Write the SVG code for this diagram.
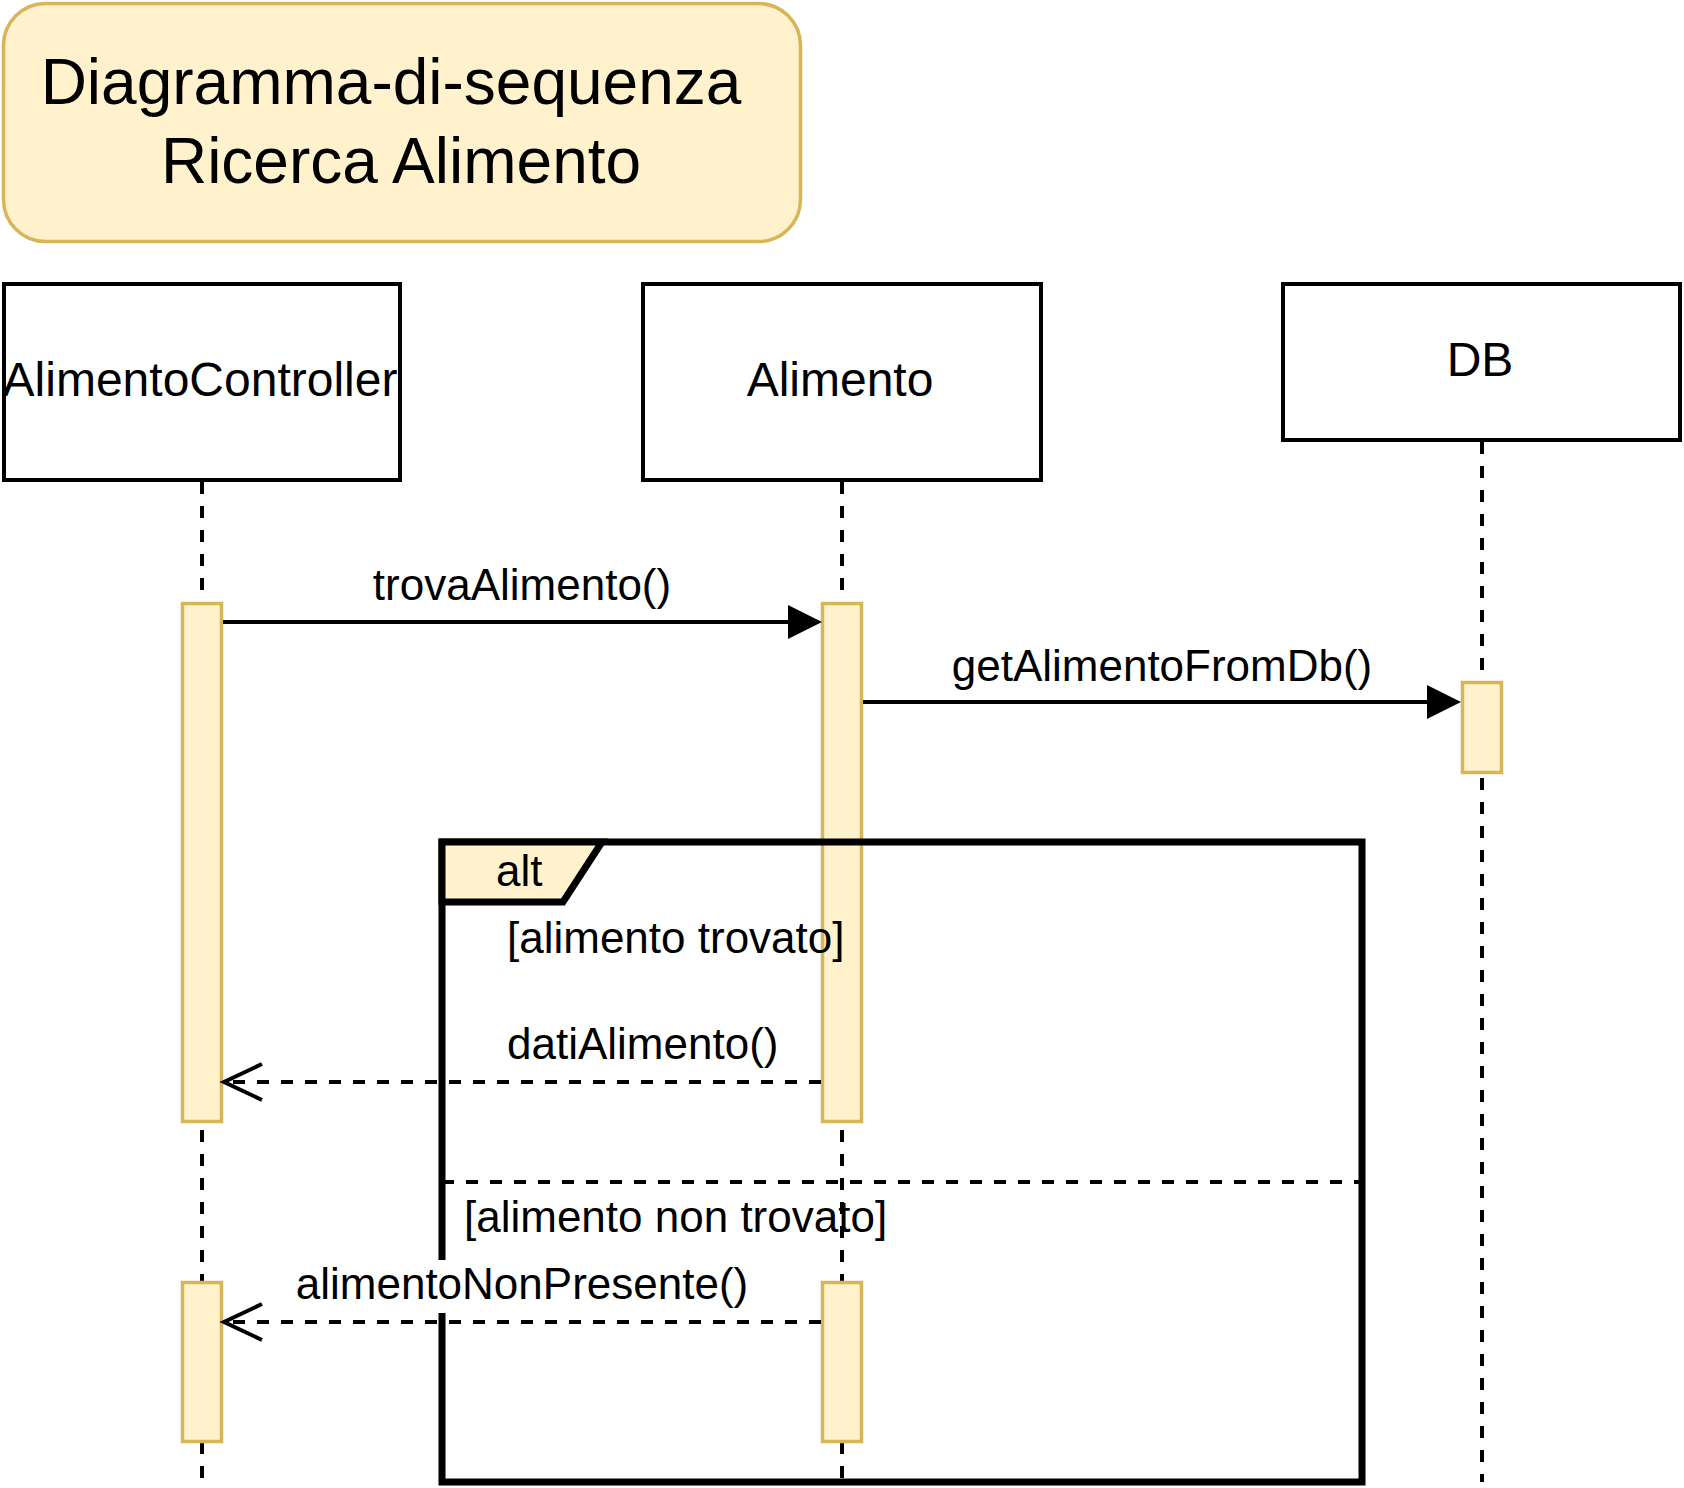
<svg xmlns="http://www.w3.org/2000/svg" width="1684" height="1488" viewBox="0 0 1684 1488">
<style>
  text { font-family: "Liberation Sans", Arial, sans-serif; fill: #000; }
  .title { font-size: 64px; text-anchor: middle; }
  .name { font-size: 48px; text-anchor: middle; }
  .msg { font-size: 44px; }
  .mid { text-anchor: middle; }
  .box { fill: #fff; stroke: #000; stroke-width: 4; }
  .bar { fill: #fff2cc; stroke: #d6b656; stroke-width: 3.5; }
  .life { stroke: #000; stroke-width: 4; stroke-dasharray: 12 12; fill: none; }
  .line { stroke: #000; stroke-width: 4; fill: none; }
  .dash { stroke: #000; stroke-width: 4; fill: none; stroke-dasharray: 12 12; }
  .head { fill: #000; stroke: none; }
  .open { fill: none; stroke: #000; stroke-width: 4; }
</style>
<rect width="1684" height="1488" fill="#fff"/>

<g id="title">
  <rect x="3.5" y="3.5" width="797" height="238" rx="42" ry="42" fill="#fff2cc" stroke="#d6b656" stroke-width="3.5"/>
  <text class="title" x="391" y="104">Diagramma-di-sequenza</text>
  <text class="title" x="401" y="183">Ricerca Alimento</text>
</g>

<g id="lifelines">
  <line class="life" x1="202" y1="482" x2="202" y2="1482"/>
  <line class="life" x1="842" y1="482" x2="842" y2="1482"/>
  <line class="life" x1="1482" y1="442" x2="1482" y2="1482"/>
</g>

<g id="node-controller">
  <rect class="box" x="4" y="284" width="396" height="196"/>
  <text class="name" x="200" y="396">AlimentoController</text>
</g>
<g id="node-alimento">
  <rect class="box" x="643" y="284" width="398" height="196"/>
  <text class="name" x="840" y="396">Alimento</text>
</g>
<g id="node-db">
  <rect class="box" x="1283" y="284" width="397" height="156"/>
  <text class="name" x="1480" y="376">DB</text>
</g>

<g id="activations">
  <rect class="bar" x="182.5" y="603.5" width="39" height="518"/>
  <rect class="bar" x="822.5" y="603.5" width="39" height="518"/>
  <rect class="bar" x="1462.5" y="682.5" width="39" height="90"/>
  <rect class="bar" x="182.5" y="1282.5" width="39" height="159"/>
  <rect class="bar" x="822.5" y="1282.5" width="39" height="159"/>
</g>

<g id="frame-alt">
  <rect x="442" y="842" width="920" height="640" fill="none" stroke="#000" stroke-width="7"/>
  <polygon points="442,842 602,842 563,902 442,902" fill="#fff2cc" stroke="#000" stroke-width="7" stroke-linejoin="miter"/>
  <text class="msg" x="496" y="886">alt</text>
  <line class="dash" x1="442" y1="1182" x2="1362" y2="1182"/>
  <text class="msg" x="507" y="953">[alimento trovato]</text>
  <text class="msg" x="464" y="1232">[alimento non trovato]</text>
</g>

<g id="connectors">
  <line class="line" x1="223" y1="622" x2="790" y2="622"/>
  <polygon class="head" points="788,605 822,622 788,639"/>
  <text class="msg mid" x="522" y="600">trovaAlimento()</text>

  <line class="line" x1="863" y1="702" x2="1429" y2="702"/>
  <polygon class="head" points="1427,685 1461,702 1427,719"/>
  <text class="msg mid" x="1162" y="681">getAlimentoFromDb()</text>

  <line class="dash" x1="821" y1="1082" x2="226" y2="1082"/>
  <polyline class="open" points="262,1064 224,1082 262,1100"/>
  <text class="msg" x="507" y="1059">datiAlimento()</text>

  <rect x="294" y="1260" width="457" height="53" fill="#fff"/>
  <line class="dash" x1="821" y1="1322" x2="226" y2="1322"/>
  <polyline class="open" points="262,1304 224,1322 262,1340"/>
  <text class="msg mid" x="522" y="1299">alimentoNonPresente()</text>
</g>
</svg>
